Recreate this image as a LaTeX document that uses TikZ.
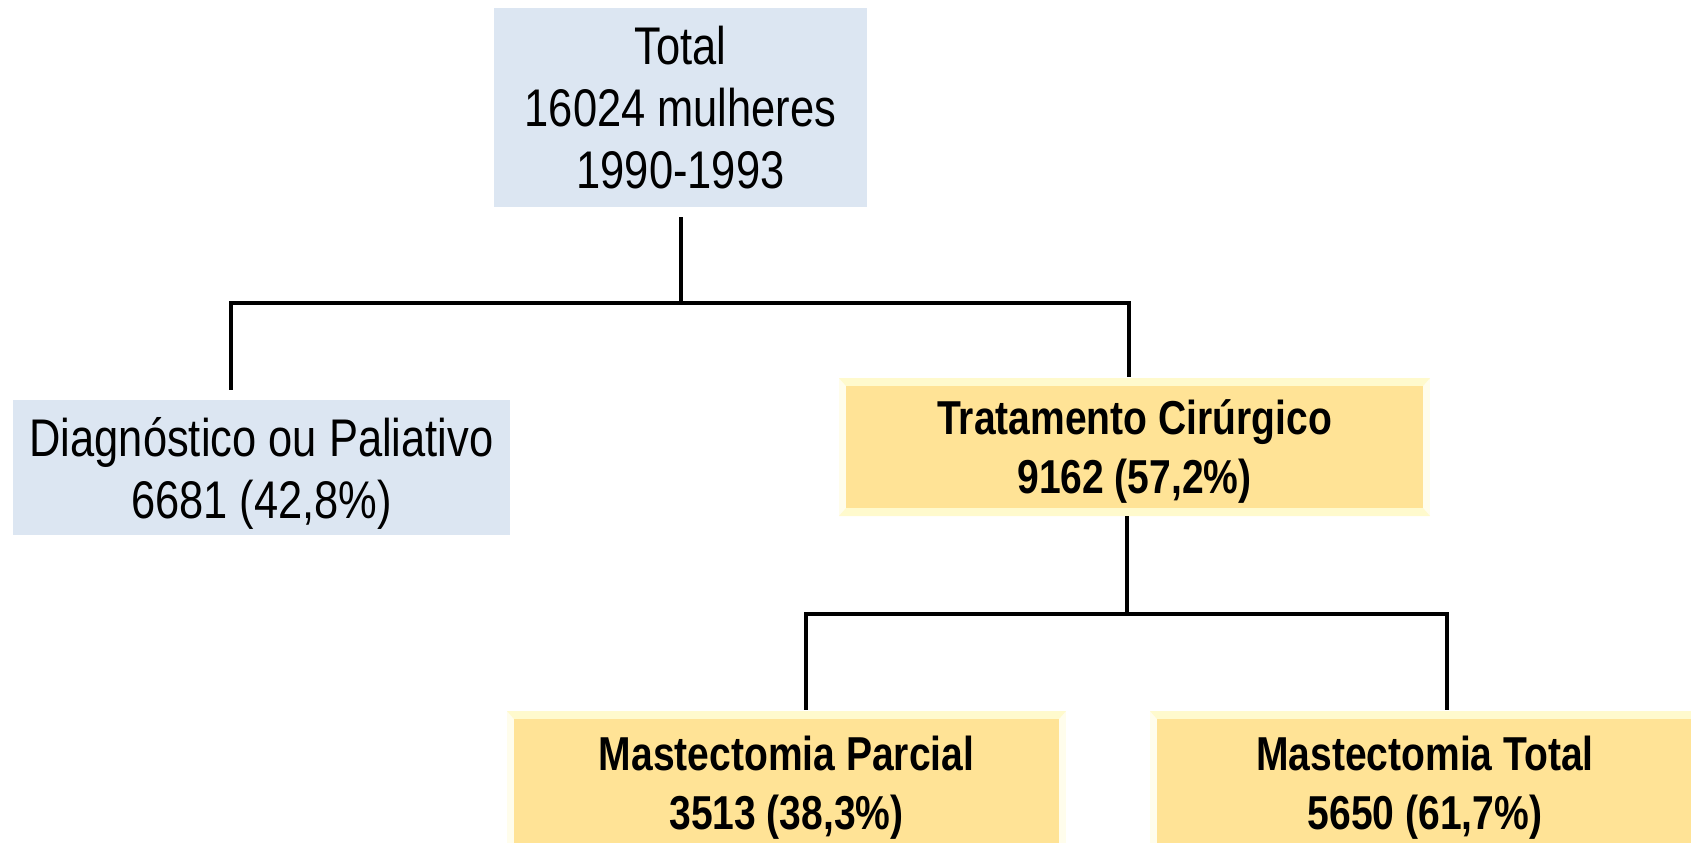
\documentclass[tikz,border=0pt]{standalone}
\usepackage{fontspec}
\setmainfont{Liberation Sans}[FakeStretch=0.82]
\usepackage{xcolor}
\usepackage{tikz}

\definecolor{boxblue}{RGB}{220,230,242}
\definecolor{boxgold}{RGB}{255,227,150}
\definecolor{bevelpale}{RGB}{255,250,205}
\definecolor{bevelside}{RGB}{255,253,236}

\begin{document}
\begin{tikzpicture}[x=0.5pt,y=-0.5pt,
    bluebox/.style={fill=boxblue,inner sep=0pt,align=center,
        font=\fontsize{26.5}{31}\selectfont},
    goldbox/.style={fill=bevelside,inner sep=0pt,align=center,text depth=0pt,
        font=\bfseries\fontsize{23.8}{29.5}\selectfont,
        path picture={
            \fill[bevelpale] (path picture bounding box.north west) -- (path picture bounding box.north east)
                -- ([xshift=-3.5pt,yshift=-4pt]path picture bounding box.north east)
                -- ([xshift=3.5pt,yshift=-4pt]path picture bounding box.north west) -- cycle;
            \fill[bevelpale] (path picture bounding box.south west) -- (path picture bounding box.south east)
                -- ([xshift=-3.5pt,yshift=4pt]path picture bounding box.south east)
                -- ([xshift=3.5pt,yshift=4pt]path picture bounding box.south west) -- cycle;
            \fill[boxgold] ([xshift=3.5pt,yshift=-4pt]path picture bounding box.north west)
                rectangle ([xshift=-3.5pt,yshift=4pt]path picture bounding box.south east);
        }},
    link/.style={line width=2pt,black}]
    \useasboundingbox (0,0) rectangle (1691,842);
    \clip (0,0) rectangle (1691,842);

    % top level
    \node [bluebox,minimum width=186.5pt,minimum height=99.5pt] (total) at (680.5,107.5)
        {Total\\16024 mulheres\\1990-1993};

    % second level
    \node [bluebox,text depth=0pt,minimum width=248.5pt,minimum height=67.5pt] (diag) at (261.5,467.5)
        {Diagnóstico ou Paliativo\\6681 (42,8\%)};
    \node [goldbox,minimum width=295.5pt,minimum height=69pt] (trat) at (1134.5,447)
        {Tratamento Cirúrgico\\9162 (57,2\%)};

    % third level
    \node [goldbox,minimum width=279.5pt,minimum height=72pt] (parcial) at (786.5,783)
        {Mastectomia Parcial\\3513 (38,3\%)};
    \node [goldbox,minimum width=275pt,minimum height=72pt] (mtotal) at (1425,783)
        {Mastectomia Total\\5650 (61,7\%)};

    \coordinate (fork1) at ([yshift=-48pt]total.south);
    \draw[link] ([yshift=-5pt]total.south) -- (fork1);
    \draw[link] (fork1) -| ([xshift=-15.25pt,yshift=5pt]diag.north);
    \draw[link] (fork1) -| ([xshift=-2.75pt,yshift=0.5pt]trat.north);

    \coordinate (fork2) at ([xshift=-3.75pt,yshift=-49pt]trat.south);
    \draw[link] ([xshift=-3.75pt]trat.south) -- (fork2);
    \draw[link] (fork2) -| ([xshift=9.75pt,yshift=0.5pt]parcial.north);
    \draw[link] (fork2) -| ([xshift=11pt,yshift=0.5pt]mtotal.north);
\end{tikzpicture}
\end{document}
